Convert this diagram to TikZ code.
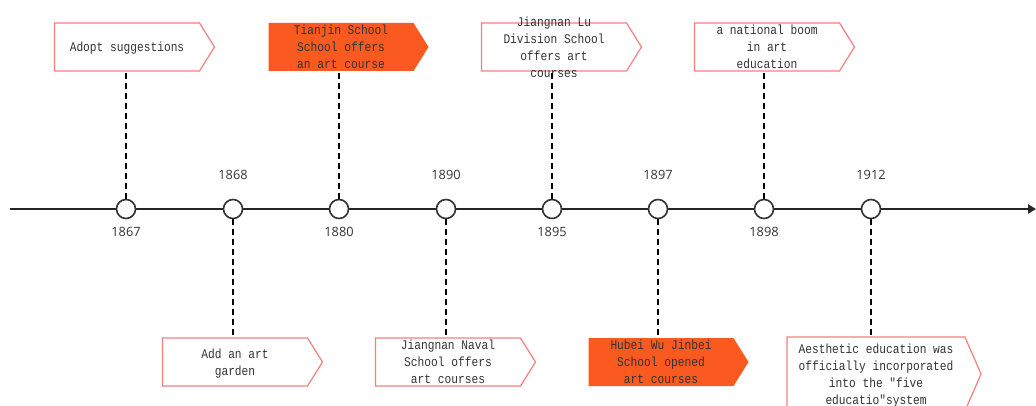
\documentclass[tikz,border=0pt]{standalone}
\usepackage{fontspec}
\setmonofont[FakeStretch=0.85]{Liberation Mono}
\newfontfamily\yearfont{Open Sans}
\usetikzlibrary{shapes.symbols,arrows.meta}
\definecolor{boxred}{HTML}{F47F7F}
\definecolor{boxorange}{HTML}{FA5A1F}
\definecolor{inkgray}{HTML}{333333}
\newcommand{\lines}[1]{\smash{\raisebox{-4.5pt}{\begin{tabular}{@{}c@{}}#1\end{tabular}}}}
\tikzset{
  event/.style={signal, signal to=east, signal pointer angle=116,
    draw=boxred, line width=1.2pt, fill=white,
    minimum width=160pt, minimum height=48pt, inner sep=0pt,
    font=\ttfamily\fontsize{13.2}{17}\selectfont, text=inkgray},
  hot/.style={event, draw=none, fill=boxorange},
  stem/.style={dash pattern=on 6pt off 4pt, line width=1.5pt},
  dot/.style={circle, draw=inkgray, fill=white, line width=1.6pt,
    minimum size=19pt, inner sep=0pt},
  year/.style={font=\yearfont\fontsize{12.8}{14}\selectfont, text=inkgray}
}
\begin{document}
\begin{tikzpicture}[x=1pt,y=-1pt]
  \useasboundingbox (0,0) rectangle (1036,406);
  % time axis
  \draw [line width=2.5pt, black!85, -{Triangle[length=8pt,width=9pt]}]
    (10,209) -- (1036,209);
  % boxes above the axis
  \node [event] (b1867) at (127,47) {\lines{Adopt suggestions}};
  \node [hot] (b1880) at (341,47) {\lines{Tianjin School\\School offers\\an art course}};
  \node [event] (b1895) at (554,47) {\lines{Jiangnan Lu\\Division School\\offers art\\courses}};
  \node [event] (b1898) at (767,47) {\lines{a national boom\\in art\\education}};
  % boxes below the axis
  \node [event] (b1868) at (235,362) {\lines{Add an art\\garden}};
  \node [event] (b1890) at (448,362) {\lines{Jiangnan Naval\\School offers\\art courses}};
  \node [hot] (b1897) at (661,362) {\lines{Hubei Wu Jinbei\\School opened\\art courses}};
  \node [event, minimum width=194pt, minimum height=74pt, signal pointer angle=133]
    (b1912) at (876,374) {\lines{Aesthetic education was\\officially incorporated\\into the "five\\educatio"system}};
  % dots on the axis
  \foreach \yr/\px in {1867/126,1868/233,1880/339,1890/446,1895/552,1897/658,1898/764,1912/871}
    \node [dot] (d\yr) at (\px,209) {};
  % stems
  \foreach \yr in {1867,1880,1895,1898}
    \draw [stem] (d\yr.north) -- (d\yr |- b\yr.south);
  \foreach \yr in {1868,1890,1897,1912}
    \draw [stem] (d\yr.south) -- (d\yr |- b\yr.north);
  % years
  \foreach \yr in {1867,1880,1895,1898}
    \node [year] (y\yr) at ([yshift=-23pt]d\yr) {\yr};
  \foreach \yr in {1868,1890,1897,1912}
    \node [year] (y\yr) at ([yshift=34pt]d\yr) {\yr};
\end{tikzpicture}
\end{document}
